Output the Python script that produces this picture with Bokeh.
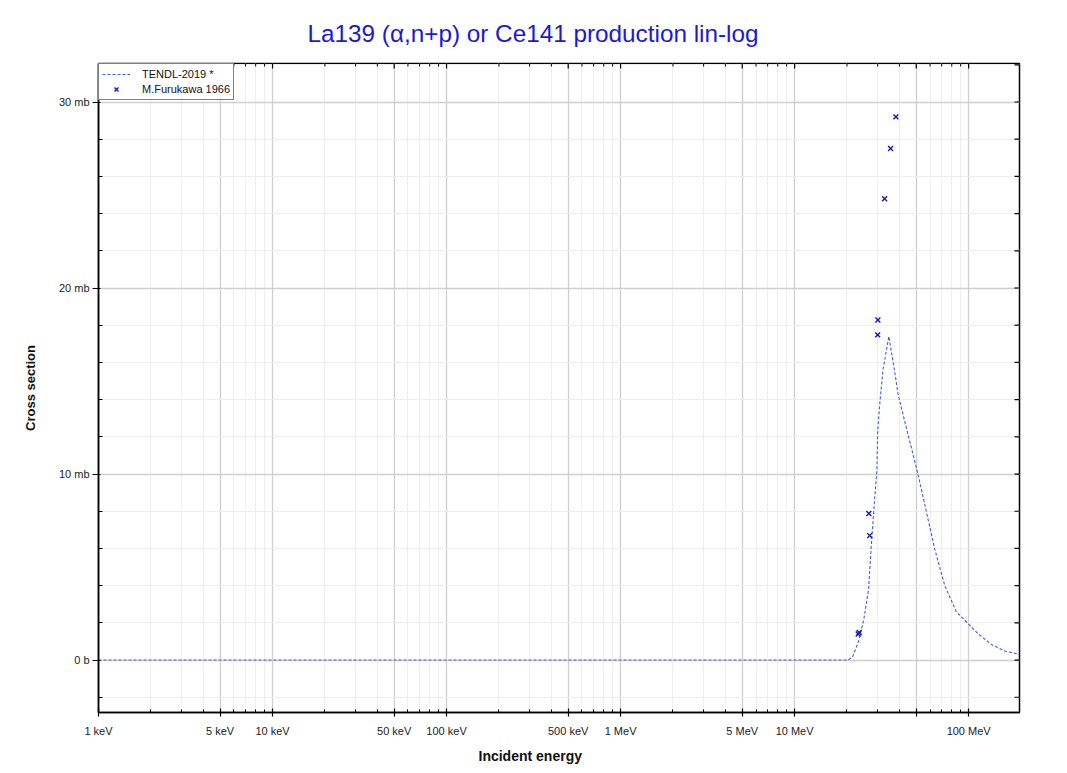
import math
from bokeh.plotting import figure
from bokeh.models import (FixedTicker, Legend, LegendItem, Range1d, Title,
                          ColumnDataSource)
from bokeh.embed import file_html
from bokeh.resources import INLINE

# ---- data (energies in MeV, cross sections in mb) ----
tendl_energy = [0.001, 0.01, 0.1, 1.0, 10.0, 20.3, 21.6, 23.3, 25.0, 26.6, 27.6,
                28.8, 29.7, 30.0, 30.8, 32.2, 34.8, 37.6, 39.3, 43.8, 47.2, 51.1,
                57.1, 63.7, 72.9, 84.9, 98.3, 113.2, 135.0, 161.5, 196.0]
tendl_xs = [0, 0, 0, 0, 0, 0, 0.2, 1.0, 2.2, 3.8, 6.2,
            8.6, 10.2, 12.2, 13.7, 15.6, 17.4, 15.5, 14.3, 12.5, 11.3, 10.0,
            8.0, 6.0, 4.0, 2.6, 2.0, 1.42, 0.84, 0.48, 0.31]

exp_energy = [23.2, 23.5, 26.7, 27.0, 30.0, 30.1, 32.9, 35.6, 38.2]
exp_xs = [1.40, 1.48, 7.88, 6.69, 17.48, 18.28, 24.8, 27.5, 29.2]

x_major = [0.001, 0.005, 0.01, 0.05, 0.1, 0.5, 1.0, 5.0, 10.0, 50.0, 100.0]
x_labels = ["1 keV", "5 keV", "10 keV", "50 keV", "100 keV", "500 keV",
            "1 MeV", "5 MeV", "10 MeV", "", "100 MeV"]
x_minor_mult = [2, 3, 4, 6, 7, 8, 9]
x_decades = [0.001, 0.01, 0.1, 1.0, 10.0, 100.0]

y_major = [0, 10, 20, 30]
y_labels = ["0 b", "10 mb", "20 mb", "30 mb"]
y_minor = [-2, 2, 4, 6, 8, 12, 14, 16, 18, 22, 24, 26, 28, 32]

x_min, x_max = 0.001, 196.0
y_min, y_max = -2.82, 32.07

x_minor = [d * m for d in x_decades for m in x_minor_mult if d * m < x_max]

FONT = "Liberation Sans"

p = figure(width=1042, height=770, x_axis_type="log",
           x_range=Range1d(x_min, x_max), y_range=Range1d(y_min, y_max),
           output_backend="svg", toolbar_location=None,
           min_border_left=98, min_border_right=23, min_border_top=63,
           min_border_bottom=58)

p.title.text = "La139 (\u03b1,n+p) or Ce141 production lin-log"
p.title.text_font = FONT
p.title.text_font_size = "24.3px"
p.title.text_font_style = "normal"
p.title.text_color = "#1a1ad6"
p.title.align = "left"
p.title.offset = 209
p.title.standoff = 33

p.outline_line_color = "black"
p.outline_line_width = 1.5

# grids
p.xgrid.ticker = FixedTicker(ticks=x_major, minor_ticks=x_minor)
p.xgrid.grid_line_color = "#cfcfcf"
p.xgrid.grid_line_width = 1.3
p.xgrid.minor_grid_line_color = "#eeeeee"
p.xgrid.minor_grid_line_width = 1
p.ygrid.ticker = FixedTicker(ticks=y_major, minor_ticks=y_minor)
p.ygrid.grid_line_color = "#cfcfcf"
p.ygrid.grid_line_width = 1.3
p.ygrid.minor_grid_line_color = "#eeeeee"
p.ygrid.minor_grid_line_width = 1

# bottom axis
xa = p.xaxis[0]
xa.ticker = FixedTicker(ticks=x_major, minor_ticks=x_minor)
xa.major_label_overrides = {v: l for v, l in zip(x_major, x_labels)}
xa.major_label_text_font = FONT
xa.major_label_text_font_size = "11px"
xa.major_label_text_color = "#222222"
xa.major_tick_in = 4
xa.major_tick_out = 4
xa.minor_tick_in = 3
xa.minor_tick_out = 0
xa.axis_line_width = 1.5
xa.major_tick_line_width = 1.2
xa.major_label_standoff = 8

p.add_layout(Title(text="Incident energy", align="left", offset=380,
                   text_font=FONT, text_font_size="14px",
                   text_font_style="bold", text_color="#111111", standoff=12),
             "below")

# left axis
ya = p.yaxis[0]
ya.ticker = FixedTicker(ticks=y_major, minor_ticks=y_minor)
ya.major_label_overrides = {v: l for v, l in zip(y_major, y_labels)}
ya.major_label_text_font = FONT
ya.major_label_text_font_size = "11px"
ya.major_label_text_color = "#222222"
ya.major_tick_in = 2
ya.major_tick_out = 6
ya.minor_tick_in = 4
ya.minor_tick_out = 0
ya.axis_line_width = 1.5
ya.major_tick_line_width = 1.2
ya.major_label_standoff = 3
ya.axis_label = "Cross section"
ya.axis_label_text_font = FONT
ya.axis_label_text_font_size = "13px"
ya.axis_label_text_font_style = "bold"
ya.axis_label_text_color = "#111111"
ya.axis_label_standoff = 18

# mirror ticks on the right and top frame edges (rays with screen lengths)
right_y = y_major + y_minor
right_ticks = ColumnDataSource(dict(x=[x_max] * len(right_y), y=right_y))
p.ray("x", "y", source=right_ticks, length=5, length_units="screen",
      angle=math.pi, line_color="black", line_width=1.2)
top_major = ColumnDataSource(dict(x=x_major, y=[y_max] * len(x_major)))
p.ray("x", "y", source=top_major, length=5, length_units="screen",
      angle=-math.pi / 2, line_color="black", line_width=1.2)
top_minor = ColumnDataSource(dict(x=x_minor, y=[y_max] * len(x_minor)))
p.ray("x", "y", source=top_minor, length=3, length_units="screen",
      angle=-math.pi / 2, line_color="black", line_width=1.0)

# data
src_t = ColumnDataSource(dict(x=tendl_energy, y=tendl_xs))
src_e = ColumnDataSource(dict(x=exp_energy, y=exp_xs))
r_line = p.line("x", "y", source=src_t, line_color="#3a5fe5", line_width=1.1,
                line_dash="3 2")
r_pts = p.scatter("x", "y", source=src_e, marker="x", size=7,
                  line_color="#1414c8", line_width=1.4)

legend = Legend(items=[LegendItem(label="TENDL-2019 *", renderers=[r_line]),
                       LegendItem(label="M.Furukawa 1966", renderers=[r_pts])],
                location="top_left", margin=0, padding=3, spacing=1,
                glyph_width=28, glyph_height=14, label_height=14,
                label_standoff=12, label_text_font=FONT,
                label_text_font_size="11px", label_text_color="#111111",
                border_line_color="black", border_line_width=1,
                background_fill_alpha=1.0)
p.add_layout(legend)

open("out.html", "w").write(file_html(p, INLINE))
